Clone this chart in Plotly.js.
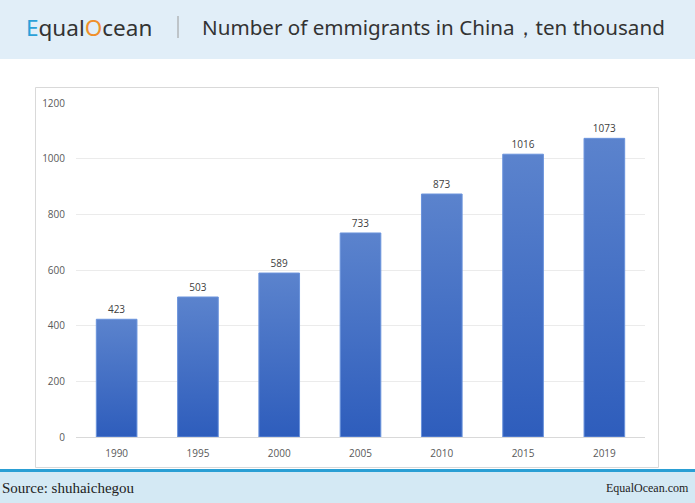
<!DOCTYPE html>
<html>
<head>
<meta charset="utf-8">
<script src="https://cdn.plot.ly/plotly-3.0.1.min.js"></script>
<style>
html,body{margin:0;padding:0;background:#fff;}
#chart{width:695px;height:503px;}
</style>
</head>
<body>
<div id="chart"></div>
<script>
const years = ["1990", "1995", "2000", "2005", "2010", "2015", "2019"];
const emigrants = [423, 503, 589, 733, 873, 1016, 1073];
const yTicks = [0, 200, 400, 600, 800, 1000, 1200];

const W = 695, H = 503;
const px = x => x / W;
const py = y => 1 - y / H;

const trace = {
  type: 'bar',
  x: years,
  y: emigrants,
  text: emigrants.map(String),
  textposition: 'outside',
  cliponaxis: false,
  textfont: {family: 'Open Sans, Arial, sans-serif', size: 10, color: '#404040'},
  marker: {color: '#4470c6', line: {color: '#6a93dc', width: 1}},
  width: 0.5,
  hoverinfo: 'none'
};

const layout = {
  width: W, height: H,
  margin: {l: 0, r: 0, t: 0, b: 0},
  paper_bgcolor: '#ffffff',
  plot_bgcolor: 'rgba(0,0,0,0)',
  showlegend: false,
  bargap: 0.5,
  xaxis: {
    domain: [px(76), px(645)],
    anchor: 'y',
    type: 'category',
    showgrid: false,
    zeroline: false,
    showline: false,
    ticks: '',
    ticklabelstandoff: 9,
    tickfont: {family: 'Open Sans, Arial, sans-serif', size: 10, color: '#595959'}
  },
  yaxis: {
    domain: [py(437), py(103)],
    range: [0, 1200],
    tickvals: yTicks,
    ticktext: yTicks.map(String),
    showgrid: true,
    gridcolor: '#ebebeb',
    gridwidth: 1,
    zeroline: true,
    zerolinecolor: '#d9d9d9',
    zerolinewidth: 1,
    showline: false,
    ticks: '',
    ticklabelstandoff: 10,
    tickfont: {family: 'Open Sans, Arial, sans-serif', size: 10, color: '#595959'}
  },
  shapes: [
    {type: 'rect', xref: 'paper', yref: 'paper', x0: 0, x1: 1, y0: py(59), y1: 1, fillcolor: '#e1eef8', line: {width: 0}, layer: 'below'},
    {type: 'rect', xref: 'paper', yref: 'paper', x0: px(35.5), x1: px(658.5), y0: py(467.5), y1: py(87.5), fillcolor: 'rgba(0,0,0,0)', line: {color: '#d9d9d9', width: 1}, layer: 'below'},
    {type: 'rect', xref: 'paper', yref: 'paper', x0: 0, x1: 1, y0: 0, y1: py(472), fillcolor: '#d4e9f4', line: {width: 0}, layer: 'below'},
    {type: 'rect', xref: 'paper', yref: 'paper', x0: 0, x1: 1, y0: py(472), y1: py(469), fillcolor: '#2a9fd4', line: {width: 0}, layer: 'below'},
    {type: 'line', xref: 'paper', yref: 'paper', x0: px(178), x1: px(178), y0: py(16), y1: py(38), line: {color: '#9a9a9a', width: 1}}
  ],
  annotations: [
    {xref: 'paper', yref: 'paper', x: px(24), y: py(27), xanchor: 'left', yanchor: 'middle', showarrow: false,
     text: '<span style="color:#2aa0d8">E</span>qual<span style="color:#f0902a">O</span>cean',
     font: {family: 'Noto Sans, Arial, sans-serif', size: 22.5, color: '#333333'}},
    {xref: 'paper', yref: 'paper', x: px(200), y: py(27), xanchor: 'left', yanchor: 'middle', showarrow: false,
     text: 'Number of emmigrants in China，ten thousand',
     font: {family: 'Noto Sans, Arial, sans-serif', size: 20.6, color: '#333333'}},
    {xref: 'paper', yref: 'paper', x: 0, y: py(488), xanchor: 'left', yanchor: 'middle', showarrow: false,
     text: 'Source: shuhaichegou',
     font: {family: 'Liberation Serif, serif', size: 15, color: '#222222'}},
    {xref: 'paper', yref: 'paper', x: px(691), y: py(488), xanchor: 'right', yanchor: 'middle', showarrow: false,
     text: 'EqualOcean.com',
     font: {family: 'Liberation Serif, serif', size: 12, color: '#222222'}}
  ]
};

Plotly.newPlot('chart', [trace], layout, {displayModeBar: false, staticPlot: true}).then(gd => {
  const svg = gd.querySelector('svg.main-svg');
  const ns = 'http://www.w3.org/2000/svg';
  let defs = svg.querySelector('defs');
  if (!defs) { defs = document.createElementNS(ns, 'defs'); svg.insertBefore(defs, svg.firstChild); }
  const grad = document.createElementNS(ns, 'linearGradient');
  grad.setAttribute('id', 'barGrad');
  grad.setAttribute('x1', '0'); grad.setAttribute('y1', '0');
  grad.setAttribute('x2', '0'); grad.setAttribute('y2', '1');
  [['0', '#5b83cd'], ['1', '#2e5dbc']].forEach(([o, c]) => {
    const s = document.createElementNS(ns, 'stop');
    s.setAttribute('offset', o); s.setAttribute('stop-color', c);
    grad.appendChild(s);
  });
  defs.appendChild(grad);
  gd.querySelectorAll('.bars .point path').forEach(p => {
    p.style.fill = 'url(#barGrad)';
  });
});
</script>
</body>
</html>
